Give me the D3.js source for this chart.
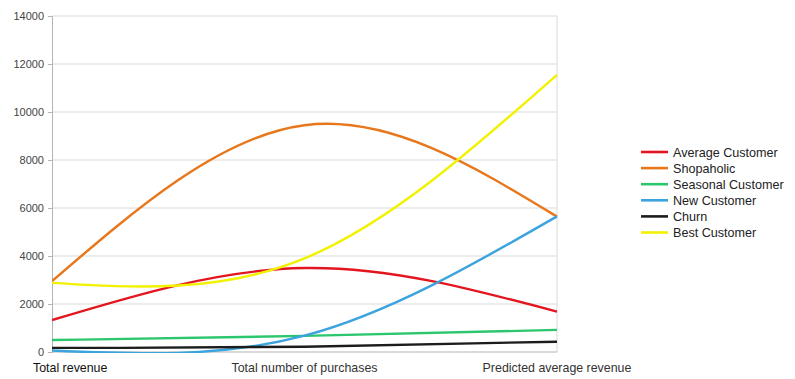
<!DOCTYPE html>
<html>
<head>
<meta charset="utf-8">
<script src="https://cdn.jsdelivr.net/npm/d3@7"></script>
<style>
  html, body { margin: 0; padding: 0; background: #ffffff; }
  svg { display: block; font-family: "Liberation Sans", Arial, sans-serif; }
</style>
</head>
<body>
<svg id="chart" width="795" height="379"></svg>
<script>
const categories = ["Total revenue", "Total number of purchases", "Predicted average revenue"];
const seriesNames = ["Average Customer", "Shopaholic", "Seasonal Customer", "New Customer", "Churn", "Best Customer"];
const averageCustomer = [1330, 3500, 1680];
const shopaholic = [2950, 9450, 5640];
const seasonalCustomer = [500, 670, 920];
const newCustomer = [60, 680, 5650];
const churn = [170, 220, 430];
const bestCustomer = [2880, 3900, 11550];
const yTicks = [0, 2000, 4000, 6000, 8000, 10000, 12000, 14000];
const colors = ["#e3161f", "#e8771c", "#2cc66e", "#3ba3dd", "#1c1c1c", "#f2f200"];

const seriesValues = [averageCustomer, shopaholic, seasonalCustomer, newCustomer, churn, bestCustomer];

const svg = d3.select("#chart");
const pLeft = 52, pRight = 557, pTop = 16, pBottom = 352;

const x = d3.scalePoint().domain(categories).range([pLeft, pRight]);
const y = d3.scaleLinear().domain([0, 14000]).range([pBottom, pTop]);

// gridlines
svg.append("g").selectAll("line").data(yTicks.filter(d => d > 0)).join("line")
  .attr("x1", pLeft).attr("x2", pRight)
  .attr("y1", d => y(d)).attr("y2", d => y(d))
  .attr("stroke", "#d9d9d9").attr("stroke-width", 1);

// right border
svg.append("line").attr("x1", pRight).attr("x2", pRight).attr("y1", pTop).attr("y2", pBottom)
  .attr("stroke", "#d9d9d9");

// y axis
const yAxis = d3.axisLeft(y).tickValues(yTicks).tickSize(4).tickPadding(4).tickFormat(d3.format("d"));
const ya = svg.append("g").attr("transform", `translate(${pLeft},0)`).call(yAxis);
ya.select(".domain").attr("stroke", "#b3b3b3");
ya.selectAll(".tick line").attr("stroke", "#b3b3b3");
ya.selectAll(".tick text").attr("fill", "#444").style("font-size", "11px").style("font-family", "Liberation Sans, Arial, sans-serif");

// x axis line
svg.append("line").attr("x1", pLeft).attr("x2", pRight).attr("y1", pBottom).attr("y2", pBottom)
  .attr("stroke", "#b3b3b3");

// x labels
svg.append("g").selectAll("text").data(categories).join("text")
  .attr("x", (d, i) => i === 0 ? 33 : x(d))
  .attr("y", 372)
  .attr("text-anchor", (d, i) => i === 0 ? "start" : "middle")
  .attr("fill", (d, i) => i === 0 ? "#111" : "#333")
  .style("font-size", "12.4px")
  .text(d => d);

// clip
svg.append("defs").append("clipPath").attr("id", "plotclip")
  .append("rect").attr("x", pLeft).attr("y", pTop - 2).attr("width", pRight - pLeft + 2).attr("height", pBottom - pTop + 3);

const line = d3.line()
  .x((d, i) => x(categories[i]))
  .y(d => y(d))
  .curve(d3.curveNatural);

const lg = svg.append("g").attr("clip-path", "url(#plotclip)");
seriesValues.forEach((vals, i) => {
  lg.append("path").datum(vals)
    .attr("d", line)
    .attr("fill", "none")
    .attr("stroke", colors[i])
    .attr("stroke-width", 2.4)
    .attr("stroke-linejoin", "round");
});

// legend
const legend = svg.append("g");
seriesNames.forEach((name, i) => {
  const yy = 152 + i * 16.1;
  legend.append("line").attr("x1", 641).attr("x2", 668).attr("y1", yy).attr("y2", yy)
    .attr("stroke", colors[i]).attr("stroke-width", 2.6);
  legend.append("text").attr("x", 673).attr("y", yy + 4.5)
    .attr("fill", "#222").style("font-size", "12.6px").text(name);
});
</script>
</body>
</html>
